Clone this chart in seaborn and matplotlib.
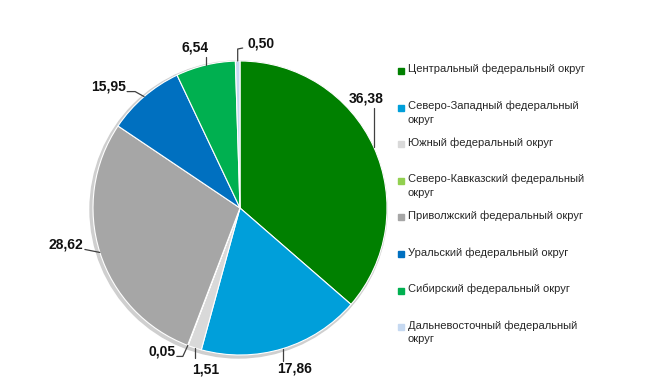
import numpy as np
import seaborn as sns
import matplotlib.pyplot as plt
from matplotlib.patches import Circle, Rectangle

# Федеральные округа (порядок секторов — по часовой стрелке от 12 часов)
districts = [
    "Центральный федеральный округ",
    "Северо-Западный федеральный\nокруг",
    "Южный федеральный округ",
    "Северо-Кавказский федеральный\nокруг",
    "Приволжский федеральный округ",
    "Уральский федеральный округ",
    "Сибирский федеральный округ",
    "Дальневосточный федеральный\nокруг",
]
# подписи значений, как на исходной диаграмме
value_labels = ["36,38", "17,86", "1,51", "0,05", "28,62", "15,95", "6,54", "0,50"]
# доли секторов, как они нарисованы (уральский сектор на картинке ~8,5 %)
shares = [36.38, 17.86, 1.51, 0.05, 28.62, 8.54, 6.54, 0.50]

colors = ["#008000", "#009fda", "#d9d9d9", "#92d050",
          "#a6a6a6", "#0070c0", "#00b050", "#c6d9f1"]

# смещения подписей и изломов выносок относительно точки на краю сектора (px)
label_offsets = [(-8, 49), (12, -20), (11, -22), (-26, -6), (-34, 8), (-36, 10), (-10, 18), (23, 18)]
leader_bends = [
    [(0, 39)],
    [(0, -12)],
    [(0, -10)],
    [(-5, -11), (-11, -11)],
    [(-15, 3)],
    [(-9, 5), (-17, 5)],
    [(0, 8)],
    [(0, 12), (5, 13)],
]

W, H = 650, 383
CX, CY, R = 240, H - 208, 147

sns.set_theme(style="white")
plt.rcParams["font.family"] = ["Liberation Sans", "DejaVu Sans"]

fig = plt.figure(figsize=(6.5, 3.83), dpi=100)
ax = fig.add_axes([0, 0, 1, 1])

# лёгкая тень вокруг круга
ax.add_patch(Circle((CX - 1.5, CY - 1.5), R + 1.5, color="#cfcfcf", zorder=0))

wedges, _ = ax.pie(shares, colors=colors, startangle=90, counterclock=False,
                   center=(CX, CY), radius=R, frame=True,
                   wedgeprops=dict(edgecolor="white", linewidth=0.8))

for w, lab, (ox, oy), bends in zip(wedges, value_labels, label_offsets, leader_bends):
    mid = np.deg2rad((w.theta1 + w.theta2) / 2)
    ax_, ay_ = CX + R * np.cos(mid), CY + R * np.sin(mid)
    xs = [ax_] + [ax_ + bx for bx, by in bends]
    ys = [ay_] + [ay_ + by for bx, by in bends]
    ax.plot(xs, ys, color="#404040", lw=0.9, zorder=5)
    ax.text(ax_ + ox, ay_ + oy, lab, ha="center", va="center",
            fontsize=10, fontweight="bold", color="#111111", zorder=6)

# легенда справа
for i, (name, c) in enumerate(zip(districts, colors)):
    y = H - 71 - i * 36.6
    fig.patches.append(Rectangle((398 / W, (y - 3) / H), 6 / W, 6 / H,
                                 transform=fig.transFigure, color=c))
    fig.text(408 / W, (y + 7) / H, name, ha="left", va="top",
             fontsize=8, color="#262626", linespacing=1.45)

ax.set_xlim(0, W)
ax.set_ylim(0, H)
ax.set_aspect("equal")
ax.axis("off")

fig.savefig("out.png", dpi=100, facecolor="white")
